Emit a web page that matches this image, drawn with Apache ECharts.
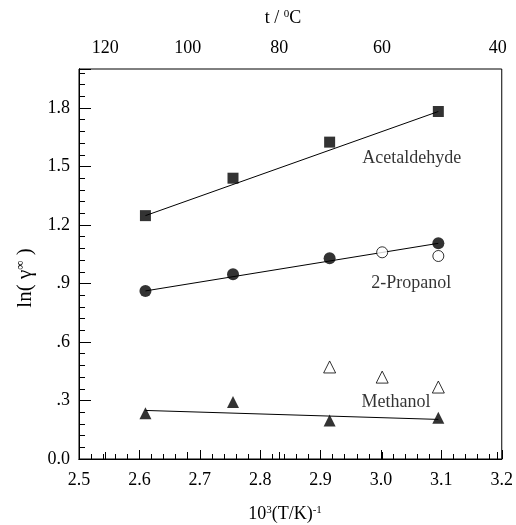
<!DOCTYPE html>
<html>
<head>
<meta charset="utf-8">
<script src="https://cdn.jsdelivr.net/npm/echarts@6/dist/echarts.min.js"></script>
<style>
  html, body { margin: 0; padding: 0; background: #fff; }
  #chart { width: 516px; height: 525px; }
</style>
</head>
<body>
<div id="chart"></div>
<script>
// x = 10^3 (T/K)^-1, y = ln(gamma inf)
const invT = [2.610, 2.755, 2.915, 3.095];
const acetaldehyde = [1.248, 1.440, 1.625, 1.782];
const propanol = [0.862, 0.948, 1.029, 1.106];
const methanol = [0.235, 0.292, 0.198, 0.212];
// open symbols
const propanolOpenX = [3.002, 3.095];
const propanolOpen = [1.060, 1.041];
const methanolOpenX = [2.915, 3.002, 3.095];
const methanolOpen = [0.472, 0.420, 0.369];
// fitted lines, end points
const fitX = [2.610, 3.095];
const acetFit = [1.248, 1.782];
const propFit = [0.862, 1.106];
const methFit = [0.249, 0.203];
// axes
const xTickLabels = ["2.5", "2.6", "2.7", "2.8", "2.9", "3.0", "3.1", "3.2"];
const yTickLabels = ["0.0", ".3", ".6", ".9", "1.2", "1.5", "1.8"];
const topTemps = [120, 100, 80, 60, 40];
// curve captions
const curveNames = ["Acetaldehyde", "2-Propanol", "Methanol"];
const curveLabelX = [3.051, 3.050, 3.025];
const curveLabelY = [1.544, 0.902, 0.292];

const FONT = "'Liberation Serif', 'Times New Roman', serif";
const pair = (xs, ys) => xs.map((x, i) => [x, ys[i]]);
const topTickPos = topTemps.map(t => 1000 / (t + 273.15));

const chart = echarts.init(document.getElementById("chart"));

const lineSeries = (ys) => ({
  type: "line",
  xAxisIndex: 0,
  yAxisIndex: 1,
  data: pair(fitX, ys),
  symbol: "none",
  lineStyle: { color: "#000", width: 1 },
  silent: true,
  z: 2
});
const pointSeries = (xs, ys, symbol, size, filled) => ({
  type: "scatter",
  xAxisIndex: 0,
  yAxisIndex: 1,
  data: pair(xs, ys),
  symbol,
  symbolSize: size,
  itemStyle: filled
    ? { color: "#000" }
    : { color: "#fff", borderColor: "#000", borderWidth: 1 },
  z: 3
});

chart.setOption({
  animation: false,
  backgroundColor: "#fff",
  textStyle: { fontFamily: FONT },
  grid: {
    left: 79, top: 69, width: 424, height: 390,
    show: true, borderColor: "#000", borderWidth: 1
  },
  xAxis: [
    {
      type: "value",
      position: "bottom",
      min: 2.5, max: 3.2, interval: 0.1,
      axisLine: { show: true, lineStyle: { color: "#000", width: 1 } },
      axisTick: { show: true, inside: true, length: 9, lineStyle: { color: "#000" } },
      minorTick: { show: true, splitNumber: 5, length: 5, lineStyle: { color: "#000" } },
      splitLine: { show: false },
      axisLabel: {
        color: "#000", fontSize: 18, fontFamily: FONT, margin: 12,
        formatter: v => xTickLabels[Math.round((v - 2.5) / 0.1)] || ""
      }
    },
    {
      type: "value",
      position: "top",
      min: 2.5, max: 3.2,
      axisLine: { show: true, lineStyle: { color: "#000", width: 1 } },
      axisTick: {
        show: true, inside: false, length: 7, lineStyle: { color: "#000" },
        customValues: topTickPos
      },
      splitLine: { show: false },
      axisLabel: {
        color: "#000", fontSize: 18, fontFamily: FONT, margin: 12,
        customValues: topTickPos,
        formatter: v => String(Math.round(1000 / v - 273.15))
      }
    }
  ],
  yAxis: [
    {
      // minor ticks
      type: "value",
      position: "left",
      min: 0, max: 2.0, interval: 0.06,
      axisLine: { show: true, lineStyle: { color: "#000", width: 1 } },
      axisTick: { show: true, inside: true, length: 6, lineStyle: { color: "#000" } },
      axisLabel: { show: false },
      splitLine: { show: false }
    },
    {
      type: "value",
      position: "left",
      min: 0, max: 2.0, interval: 0.3,
      axisLine: { show: true, lineStyle: { color: "#000", width: 1 } },
      axisTick: { show: true, inside: true, length: 12, lineStyle: { color: "#000" } },
      splitLine: { show: false },
      axisLabel: {
        color: "#000", fontSize: 18, fontFamily: FONT, margin: 9,
        formatter: v => {
          const i = Math.round(v / 0.3);
          return Math.abs(v - i * 0.3) < 1e-6 ? (yTickLabels[i] || "") : "";
        }
      }
    }
  ],
  graphic: [
    {
      type: "text", x: 25, y: 278, rotation: Math.PI / 2,
      style: {
        text: "ln( γ{sup|∞} )",
        fontFamily: FONT, fontSize: 21, fill: "#000",
        align: "center", verticalAlign: "middle",
        rich: { sup: { fontFamily: FONT, fontSize: 13, verticalAlign: "top", padding: [0, 0, 8, 0] } }
      }
    },
    {
      type: "text", x: 283, y: 18,
      style: {
        text: "t / {sup|0}C",
        fontFamily: FONT, fontSize: 18, fill: "#000",
        align: "center", verticalAlign: "middle",
        rich: { sup: { fontFamily: FONT, fontSize: 11, verticalAlign: "top", padding: [0, 0, 8, 0] } }
      }
    },
    {
      type: "text", x: 285, y: 514,
      style: {
        text: "10{sup|3}(T/K){sup|-1}",
        fontFamily: FONT, fontSize: 18, fill: "#000",
        align: "center", verticalAlign: "middle",
        rich: { sup: { fontFamily: FONT, fontSize: 11, verticalAlign: "top", padding: [0, 0, 8, 0] } }
      }
    }
  ],
  series: [
    lineSeries(acetFit),
    lineSeries(propFit),
    lineSeries(methFit),
    pointSeries(invT, acetaldehyde, "rect", 11, true),
    pointSeries(invT, propanol, "circle", 12, true),
    pointSeries(propanolOpenX, propanolOpen, "circle", 11, false),
    pointSeries(invT, methanol, "triangle", 12, true),
    pointSeries(methanolOpenX, methanolOpen, "triangle", 12, false),
    {
      type: "scatter",
      xAxisIndex: 0,
      yAxisIndex: 1,
      symbolSize: 0,
      silent: true,
      data: curveNames.map((n, i) => ({ name: n, value: [curveLabelX[i], curveLabelY[i]] })),
      label: {
        show: true, position: "inside", formatter: p => p.name,
        color: "#000", fontSize: 18, fontFamily: FONT
      }
    }
  ]
});
</script>
</body>
</html>
